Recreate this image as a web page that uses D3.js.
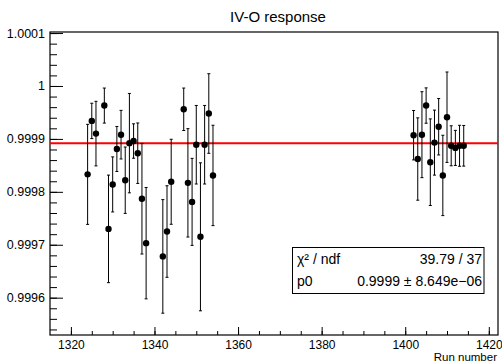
<!DOCTYPE html>
<html>
<head>
<meta charset="utf-8">
<script src="https://cdn.jsdelivr.net/npm/d3@7"></script>
<style>
  body { margin: 0; background: #fff; }
  svg { display: block; font-family: "Liberation Sans", Arial, sans-serif; }
  .tick text { font-size: 12.5px; fill: #000; }
  .xaxis .tick text { font-size: 12px; }
</style>
</head>
<body>
<svg class="chart" width="502" height="362"></svg>
<script>
var runs = [1324, 1325, 1326, 1328, 1329, 1330, 1331, 1332, 1333, 1334, 1335, 1336, 1337,
  1338, 1342, 1343, 1344, 1347, 1348, 1349, 1350, 1351, 1352, 1353, 1354,
  1402, 1403, 1404, 1405, 1406, 1407, 1408, 1409, 1410, 1411, 1412, 1413, 1414];

var response = [0.999833, 0.999934, 0.999910, 0.999963, 0.999730, 0.999814, 0.999881,
  0.999908, 0.999822, 0.999892, 0.999896, 0.999873, 0.999787, 0.999703, 0.999678,
  0.999725, 0.999819, 0.999956, 0.999817, 0.999781, 0.999889, 0.999715, 0.999889,
  0.999948, 0.999831,
  0.999907, 0.999862, 0.999908, 0.999963, 0.999856, 0.999893, 0.999923, 0.999831,
  0.999941, 0.999887, 0.999883, 0.999887, 0.999887];

var errors = [9.45e-5, 3.34e-5, 6.10e-5, 3.31e-5, 10.16e-5, 5.20e-5, 4.25e-5, 4.59e-5,
  6.27e-5, 9.39e-5, 3.25e-5, 5.71e-5, 10.45e-5, 10.52e-5, 10.73e-5, 8.65e-5, 8.03e-5,
  4.01e-5, 10.24e-5, 8.22e-5, 7.42e-5, 13.98e-5, 7.42e-5, 7.52e-5, 9.48e-5,
  4.67e-5, 7.78e-5, 8.12e-5, 3.34e-5, 8.18e-5, 6.14e-5, 5.33e-5, 7.59e-5, 8.54e-5,
  3.78e-5, 3.31e-5, 3.87e-5, 3.84e-5];

var xTicks = [1320, 1340, 1360, 1380, 1400, 1420];
var yTicks = [0.9996, 0.9997, 0.9998, 0.9999, 1, 1.0001];

var fitValue = 0.999892;
var statRows = [["\u03c7\u00b2 / ndf", "39.79 / 37"], ["p0", "0.9999 \u00b1 8.649e\u221206"]];

var frameL = 50, frameR = 498, frameT = 32, frameB = 335;

var points = runs.map(function(r, i) {
  return { run: r, value: response[i], err: errors[i] };
});

var x = d3.scaleLinear().domain([1315, 1422.2]).range([frameL, frameR]);
var y = d3.scaleLinear().domain([0.9995295, 1.000102]).range([frameB, frameT]);

var chart = d3.select(".chart");

// axes, ticks pointing inward
var xMinor = d3.range(1320, 1421, 5);
var yMinor = d3.range(0, 30).map(function(i) { return 0.99954 + i * 0.00002; })
  .filter(function(v) { return v <= 1.000102; });

chart.append("g")
  .attr("transform", "translate(0," + frameB + ")")
  .call(d3.axisBottom(x).tickValues(xMinor).tickSizeInner(-4).tickSizeOuter(0).tickFormat(""))
  .call(function(g) { g.select(".domain").remove(); });

chart.append("g")
  .attr("class", "xaxis")
  .attr("transform", "translate(0," + frameB + ")")
  .call(d3.axisBottom(x).tickValues(xTicks).tickSizeInner(-8).tickSizeOuter(0).tickPadding(5)
    .tickFormat(d3.format("d")))
  .call(function(g) { g.select(".domain").remove(); });

chart.append("g")
  .attr("transform", "translate(" + frameL + ",0)")
  .call(d3.axisLeft(y).tickValues(yMinor).tickSizeInner(-7).tickSizeOuter(0).tickFormat(""))
  .call(function(g) { g.select(".domain").remove(); });

chart.append("g")
  .attr("transform", "translate(" + frameL + ",0)")
  .call(d3.axisLeft(y).tickValues(yTicks).tickSizeInner(-13).tickSizeOuter(0).tickPadding(5)
    .tickFormat(function(d) { return +d.toFixed(4); }))
  .call(function(g) { g.select(".domain").remove(); });

chart.selectAll(".tick line").attr("stroke", "#000");

// frame
chart.append("rect")
  .attr("x", frameL)
  .attr("y", frameT)
  .attr("width", frameR - frameL)
  .attr("height", frameB - frameT)
  .attr("fill", "none")
  .attr("stroke", "#000")
  .attr("stroke-width", 1.2);

// fit line
chart.append("line")
  .attr("x1", frameL)
  .attr("x2", frameR)
  .attr("y1", y(fitValue))
  .attr("y2", y(fitValue))
  .attr("stroke", "#ff0000")
  .attr("stroke-width", 2);

// error bars
var bars = chart.selectAll("g.pt")
  .data(points)
  .enter()
  .append("g")
  .attr("class", "pt");

bars.append("line")
  .attr("x1", function(d) { return x(d.run); })
  .attr("x2", function(d) { return x(d.run); })
  .attr("y1", function(d) { return y(d.value + d.err); })
  .attr("y2", function(d) { return y(d.value - d.err); })
  .attr("stroke", "#000");

[1, -1].forEach(function(s) {
  bars.append("line")
    .attr("x1", function(d) { return x(d.run) - 1.5; })
    .attr("x2", function(d) { return x(d.run) + 1.5; })
    .attr("y1", function(d) { return y(d.value + s * d.err); })
    .attr("y2", function(d) { return y(d.value + s * d.err); })
    .attr("stroke", "#000");
});

bars.append("circle")
  .attr("cx", function(d) { return x(d.run); })
  .attr("cy", function(d) { return y(d.value); })
  .attr("r", 3.2)
  .attr("fill", "#000");

// title and axis label
chart.append("text")
  .attr("x", 278)
  .attr("y", 22)
  .attr("text-anchor", "middle")
  .attr("font-size", 15)
  .text("IV-O response");

chart.append("text")
  .attr("x", 497)
  .attr("y", 361)
  .attr("text-anchor", "end")
  .attr("font-size", 11.5)
  .text("Run number");

// stats box
var box = chart.append("g");
box.append("rect")
  .attr("x", 292.5)
  .attr("y", 247.5)
  .attr("width", 191.5)
  .attr("height", 46)
  .attr("fill", "#fff")
  .attr("stroke", "#000");

statRows.forEach(function(r, i) {
  box.append("text")
    .attr("x", 297)
    .attr("y", 264 + i * 22)
    .attr("font-size", 14)
    .text(r[0]);
  box.append("text")
    .attr("x", 482)
    .attr("y", 264 + i * 22)
    .attr("text-anchor", "end")
    .attr("font-size", 14)
    .text(r[1]);
});
</script>
</body>
</html>
